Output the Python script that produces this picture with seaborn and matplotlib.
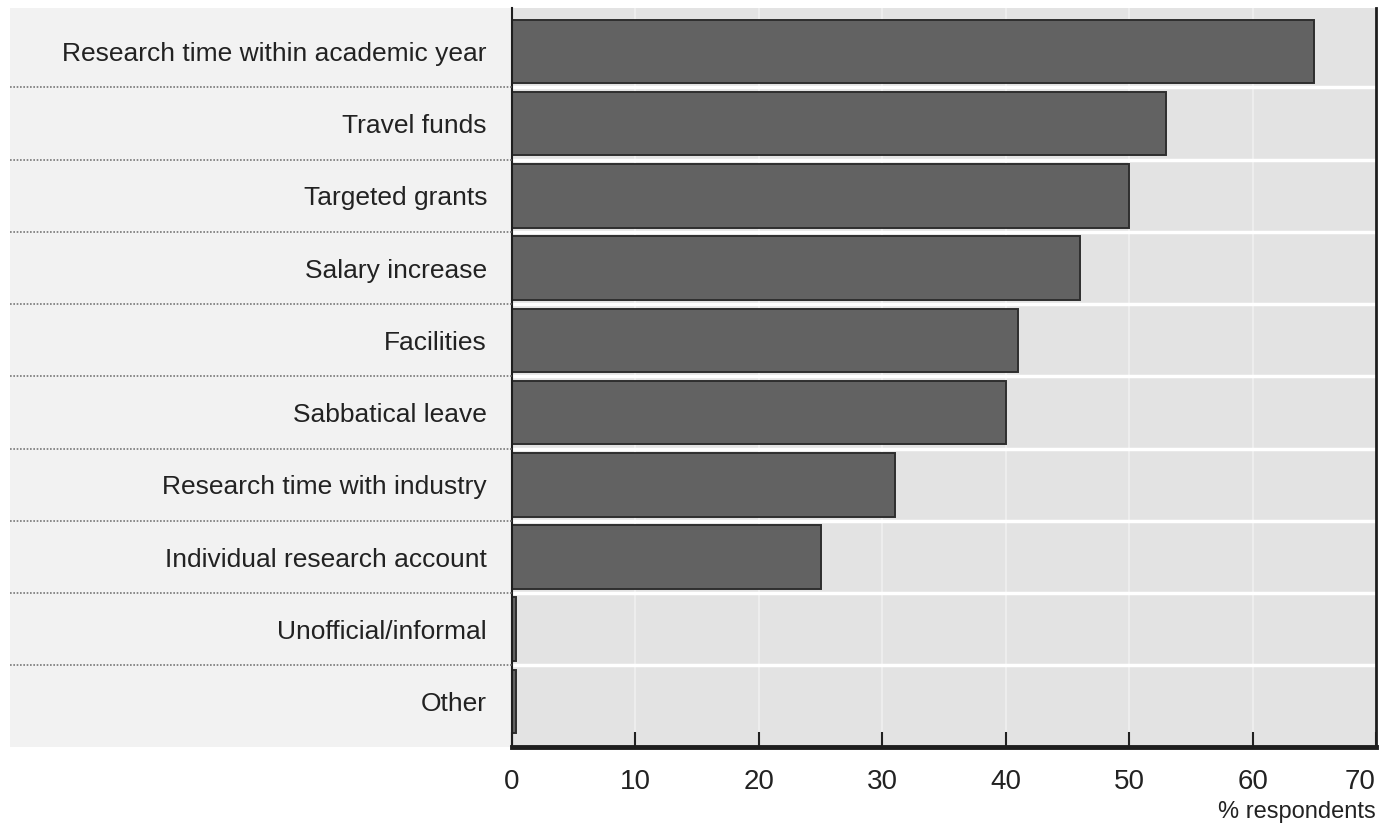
import matplotlib
matplotlib.use("Agg")
import matplotlib.pyplot as plt
import matplotlib.transforms as mtransforms
from matplotlib.patches import Rectangle
import seaborn as sns
import pandas as pd

categories = [
    "Research time within academic year",
    "Travel funds",
    "Targeted grants",
    "Salary increase",
    "Facilities",
    "Sabbatical leave",
    "Research time with industry",
    "Individual research account",
    "Unofficial/informal",
    "Other",
]
values = [65, 53, 50, 46, 41, 40, 31, 25, 0.3, 0.3]
x_ticks = [0, 10, 20, 30, 40, 50, 60, 70]
x_label = "% respondents"

df = pd.DataFrame({"category": categories, "pct": values})

sns.set_theme(style="white")
FONT = ["Liberation Sans Narrow", "Liberation Sans", "DejaVu Sans"]
plt.rcParams["font.family"] = FONT

fig = plt.figure(figsize=(13.85, 8.26), dpi=100)
fig.patch.set_facecolor("white")
W, H = 1385, 826
L, R, T, B = 512, 1376, 8, 747
ax = fig.add_axes([L / W, 1 - B / H, (R - L) / W, (B - T) / H])

# label-area background panel
fig.patches.append(Rectangle((10 / W, 1 - B / H), (L - 10) / W, (B - T) / H,
                             transform=fig.transFigure, facecolor="#f2f2f2",
                             edgecolor="none", zorder=-5))

ax.set_facecolor("#e3e3e3")
sns.barplot(data=df, x="pct", y="category", orient="h", color="#626262",
            saturation=1, width=0.88, edgecolor="#2e2e2e", linewidth=1.4, ax=ax)

ax.set_xlim(0, 70)
ax.set_ylim(9.63, -0.60)
ax.set_xticks(x_ticks)
ax.set_xticklabels([str(t) for t in x_ticks], fontsize=20, color="#222222")
ax.get_xticklabels()[-1].set_horizontalalignment("right")

# white grid lines
for t in x_ticks[1:-1]:
    ax.axvline(t, color="white", lw=1.2, alpha=0.45, zorder=0.5)
for k in range(len(categories) - 1):
    ax.axhline(k + 0.5, color="white", lw=2.5, zorder=0.5)

# dotted separators in label area
trans = mtransforms.blended_transform_factory(ax.transAxes, ax.transData)
for k in range(len(categories) - 1):
    ax.plot([(10 - L) / (R - L), 0], [k + 0.5, k + 0.5], transform=trans,
            color="#777777", lw=1.2, ls=(0, (1, 1)), clip_on=False, zorder=3)

ax.tick_params(axis="x", direction="in", length=11, width=1.5, color="#222222",
               pad=16, bottom=True)
ax.tick_params(axis="y", length=0, pad=18, labelsize=19, labelcolor="#222222")
ax.set_ylabel("")
ax.set_xlabel(x_label, fontsize=17, color="#222222", loc="right", labelpad=4)

for side in ["left", "right", "bottom"]:
    ax.spines[side].set_visible(True)
    ax.spines[side].set_color("#1e1e1e")
ax.spines["top"].set_visible(False)
ax.spines["left"].set_linewidth(1.5)
ax.spines["right"].set_linewidth(2)
ax.spines["bottom"].set_linewidth(3.5)

fig.savefig("out.png", dpi=100)
